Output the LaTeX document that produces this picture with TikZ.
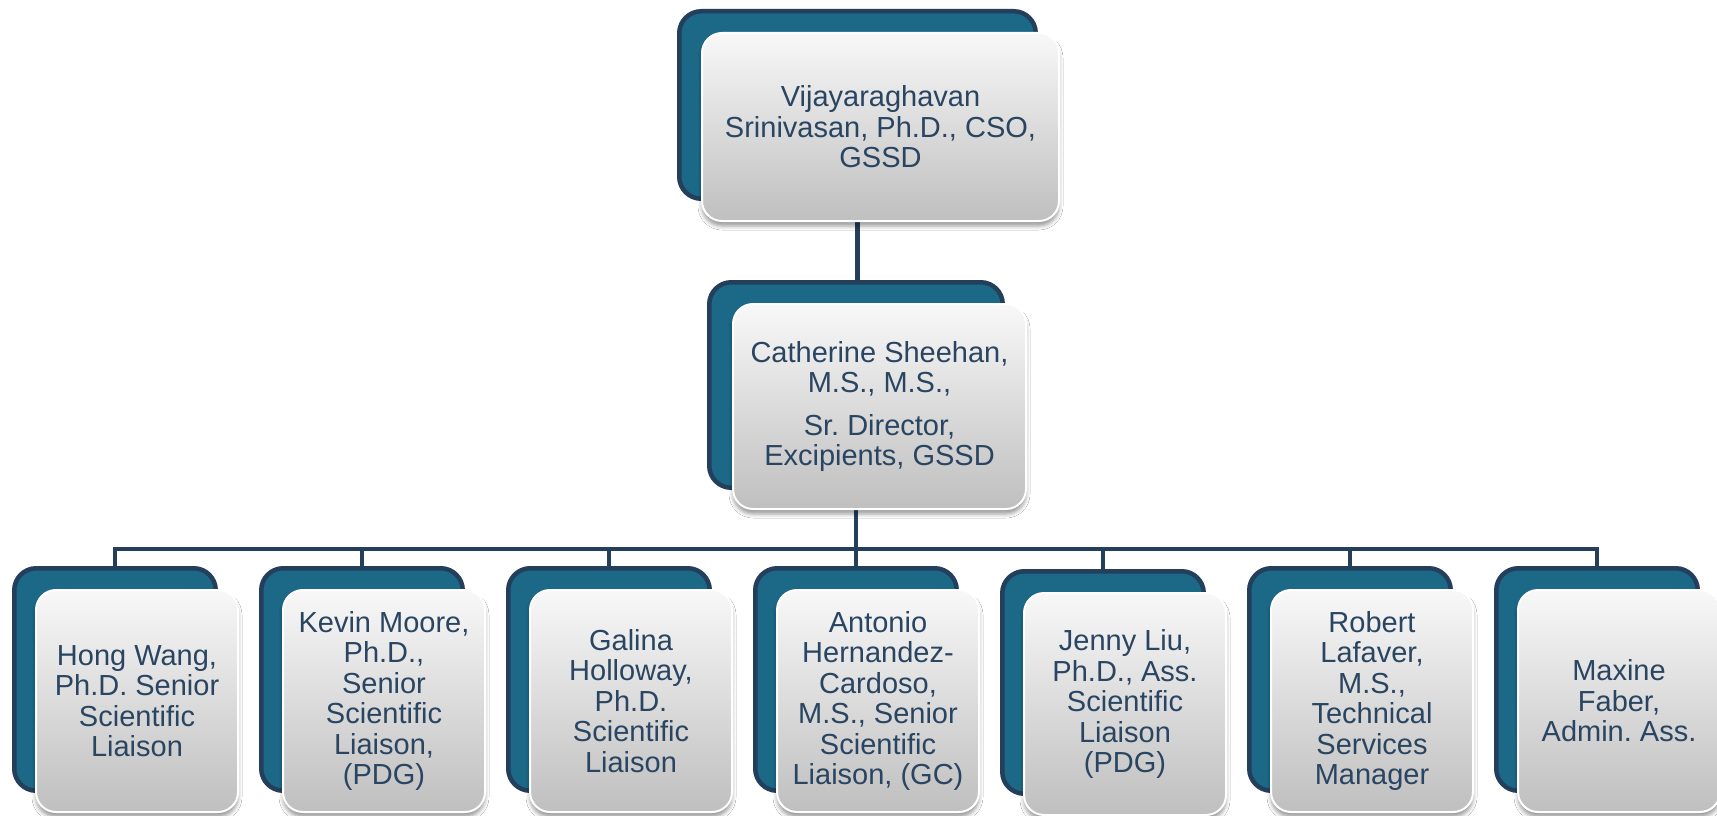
\documentclass[tikz,border=0pt]{standalone}
\usepackage{fontspec}
\setmainfont{Liberation Sans}
\usetikzlibrary{shadows.blur,backgrounds}
\definecolor{backfill}{HTML}{1B6887}
\definecolor{navy}{HTML}{243F5C}
\definecolor{txt}{HTML}{2A4561}
\definecolor{ftop}{HTML}{F8F8F8}
\definecolor{fbot}{HTML}{BFBFBF}
\frenchspacing
\begin{document}
\begin{tikzpicture}[x=1pt,y=-1pt,
  backbox/.style 2 args={draw=navy, line width=4.5pt, fill=backfill, rounded corners=22pt,
    minimum width={#1pt-4.5pt}, minimum height={#2pt-4.5pt}, inner sep=0pt},
  frontbox/.style 2 args={draw=white, line width=2pt, top color=ftop, bottom color=fbot,
    rounded corners=20pt, minimum width={#1pt-2pt}, minimum height={#2pt-2pt}, inner sep=0pt,
    align=center, text=txt, font=\fontsize{29}{30.5}\selectfont,
    blur shadow={shadow xshift=0pt, shadow yshift=-5pt, shadow blur radius=4pt, shadow opacity=40}},
  link/.style={draw=navy, line width=4.5pt}]
\useasboundingbox (0,0) rectangle (1717,816);

% top
\node[backbox={361}{192}] (tb) at (857.5,105) {};
\node[frontbox={359}{190}] (tf) at (880.5,127) {Vijayaraghavan\\Srinivasan, Ph.D., CSO,\\GSSD};

% middle
\node[backbox={298}{210}] (mb) at (856,385) {};
\node[frontbox={295}{207}] (mf) at (879.5,406.5) {Catherine Sheehan,\\M.S., M.S.,\\[12pt]Sr. Director,\\Excipients, GSSD};

% bottom row
\node[backbox={206}{227}] (b1) at (115,679.5) {};
\node[frontbox={204}{224}] (f1) at (137,701) {Hong Wang,\\Ph.D. Senior\\Scientific\\Liaison};
\node[backbox={206}{227}] (b2) at (362,679.5) {};
\node[frontbox={204}{224}] (f2) at (384,701) {Kevin Moore,\\Ph.D.,\\Senior\\Scientific\\Liaison,\\(PDG)};
\node[backbox={206}{227}] (b3) at (609,679.5) {};
\node[frontbox={204}{224}] (f3) at (631,701) {Galina\\Holloway,\\Ph.D.\\Scientific\\Liaison};
\node[backbox={206}{227}] (b4) at (856,679.5) {};
\node[frontbox={204}{224}] (f4) at (878,701) {Antonio\\Hernandez-\\Cardoso,\\M.S., Senior\\Scientific\\Liaison, (GC)};
\node[backbox={206}{227}] (b5) at (1103,682.5) {};
\node[frontbox={204}{224}] (f5) at (1125,704) {Jenny Liu,\\Ph.D., Ass.\\Scientific\\Liaison\\(PDG)};
\node[backbox={206}{227}] (b6) at (1350,679.5) {};
\node[frontbox={204}{224}] (f6) at (1372,701) {Robert\\Lafaver,\\M.S.,\\Technical\\Services\\Manager};
\node[backbox={206}{227}] (b7) at (1597,679.5) {};
\node[frontbox={204}{224}] (f7) at (1619,701) {Maxine\\Faber,\\Admin. Ass.};

\coordinate (bus) at (856,549);

\begin{pgfonlayer}{background}
  \fill[white] (0,0) rectangle (1717,816);
  \draw[link] (tb.south) -- (tb.south |- mb.north);
  \draw[link] (mb.south) -- (bus);
  \draw[link] (b1.north) |- (bus) -| (b7.north);
  \draw[link] (b2.north) -- (b2.north |- bus);
  \draw[link] (b3.north) -- (b3.north |- bus);
  \draw[link] (b4.north) -- (b4.north |- bus);
  \draw[link] (b5.north) -- (b5.north |- bus);
  \draw[link] (b6.north) -- (b6.north |- bus);
\end{pgfonlayer}
\end{tikzpicture}
\end{document}
